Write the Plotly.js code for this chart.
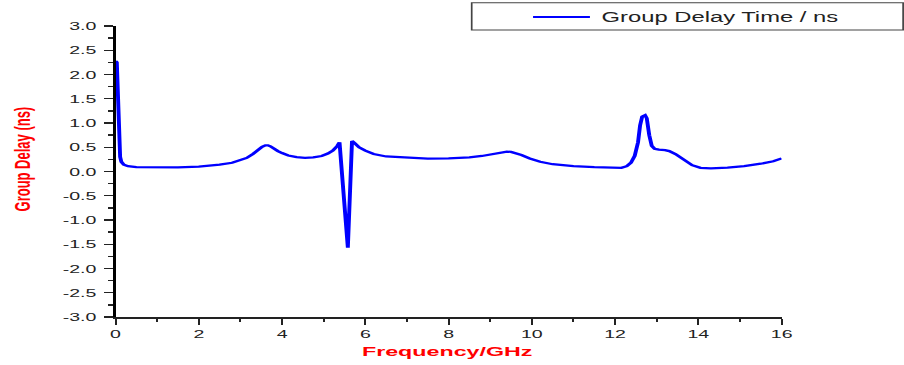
<!DOCTYPE html>
<html>
<head>
<meta charset="utf-8">
<script src="https://cdn.plot.ly/plotly-3.0.1.min.js"></script>
<style>
  html, body { margin: 0; padding: 0; background: #ffffff; overflow: hidden; }
  #chart { width: 532px; height: 365px; transform: scaleX(1.6992); transform-origin: 0 0; }
</style>
</head>
<body>
<div id="chart"></div>
<script>
// Frequency (GHz)
const freq = [0.0, 0.03, 0.11, 0.14, 0.2, 0.3, 0.5, 1.0, 1.5, 2.0, 2.5, 2.8, 3.0, 3.15, 3.3, 3.42, 3.52, 3.6, 3.66, 3.72, 3.8, 3.9, 4.0, 4.15, 4.35, 4.55, 4.75, 4.95, 5.1, 5.22, 5.32, 5.38, 5.58, 5.68, 5.75, 5.85, 6.0, 6.2, 6.5, 7.0, 7.5, 8.0, 8.5, 8.8, 9.05, 9.25, 9.4, 9.5, 9.6, 9.75, 9.95, 10.2, 10.5, 11.0, 11.5, 12.0, 12.15, 12.28, 12.38, 12.47, 12.55, 12.6, 12.65, 12.72, 12.76, 12.82, 12.88, 12.95, 13.05, 13.2, 13.3, 13.45, 13.65, 13.85, 14.05, 14.3, 14.7, 15.1, 15.5, 15.8, 16.0];
// Group delay (ns)
const delay = [2.28, 2.25, 0.3, 0.2, 0.14, 0.11, 0.09, 0.08, 0.085, 0.1, 0.14, 0.18, 0.23, 0.28, 0.36, 0.45, 0.51, 0.54, 0.54, 0.52, 0.47, 0.42, 0.38, 0.33, 0.295, 0.28, 0.29, 0.32, 0.37, 0.43, 0.52, 0.6, -1.57, 0.63, 0.58, 0.5, 0.43, 0.36, 0.31, 0.28, 0.265, 0.27, 0.29, 0.32, 0.36, 0.395, 0.41, 0.405, 0.385, 0.34, 0.27, 0.2, 0.15, 0.11, 0.09, 0.07, 0.075, 0.11, 0.18, 0.32, 0.6, 0.95, 1.13, 1.16, 1.1, 0.75, 0.53, 0.47, 0.45, 0.44, 0.42, 0.36, 0.24, 0.13, 0.075, 0.065, 0.08, 0.11, 0.16, 0.21, 0.27];

const seriesName = "Group Delay Time / ns";
const xTitle = "Frequency/GHz";
const yTitle = "Group Delay (ns)";
const xTickVals = [0, 2, 4, 6, 8, 10, 12, 14, 16];
const xTickText = ["0", "2", "4", "6", "8", "10", "12", "14", "16"];
const yTickVals = [3.0, 2.5, 2.0, 1.5, 1.0, 0.5, 0.0, -0.5, -1.0, -1.5, -2.0, -2.5, -3.0];
const yTickText = ["3.0", "2.5", "2.0", "1.5", "1.0", "0.5", "0.0", "-0.5", "-1.0", "-1.5", "-2.0", "-2.5", "-3.0"];

const FONT = "Liberation Sans, Arial, sans-serif";
const BLUE = "#0000ff";
const RED = "#ff0000";

const trace = {
  x: freq, y: delay, type: "scatter", mode: "lines", name: seriesName,
  line: { color: BLUE, width: 2.3, shape: "linear" }, showlegend: false, hoverinfo: "skip"
};

const layout = {
  width: 532, height: 365,
  margin: { l: 68, r: 72, t: 26, b: 48, pad: 0 },
  paper_bgcolor: "#ffffff", plot_bgcolor: "#ffffff",
  font: { family: FONT, color: "#222222", size: 11 },
  showlegend: false,
  xaxis: {
    range: [0, 16], tickmode: "array", tickvals: xTickVals, ticktext: xTickText,
    showgrid: false, zeroline: false, showline: true, linecolor: "#222222", linewidth: 1.5,
    ticks: "outside", ticklen: 6, tickwidth: 1.2, tickcolor: "#222222",
    minor: { dtick: 1, ticks: "outside", ticklen: 3, tickwidth: 1.2, tickcolor: "#222222", showgrid: false },
    tickfont: { family: FONT, size: 11.5, color: "#222222" }, fixedrange: true
  },
  yaxis: {
    range: [-3, 3], tickmode: "array", tickvals: yTickVals, ticktext: yTickText,
    showgrid: false, zeroline: false, showline: true, linecolor: "#000000", linewidth: 1.7,
    ticks: "outside", ticklen: 5.3, tickwidth: 1.3, tickcolor: "#222222",
    minor: { dtick: 0.25, tick0: 0, ticks: "outside", ticklen: 3, tickwidth: 1.3, tickcolor: "#222222", showgrid: false },
    tickfont: { family: FONT, size: 11.5, color: "#222222" }, ticklabelstandoff: 2, fixedrange: true
  },
  shapes: [
    { type: "rect", xref: "paper", yref: "paper", x0: 0.5347, x1: 1.1824, y0: 0.9863, y1: 1.080,
      line: { color: "#444444", width: 1 }, fillcolor: "rgba(0,0,0,0)" },
    { type: "line", xref: "paper", yref: "paper", x0: 0.6268, x1: 0.7122, y0: 1.0309, y1: 1.0309,
      line: { color: BLUE, width: 2 } }
  ],
  annotations: [
    { text: seriesName, xref: "paper", yref: "paper", x: 0.7243, y: 1.0309, xanchor: "left", yanchor: "middle",
      showarrow: false, font: { family: FONT, size: 14, color: "#222222" } },
    { text: "<b>" + xTitle + "</b>", xref: "paper", yref: "paper", x: 0.499, y: -0.120, xanchor: "center", yanchor: "middle",
      showarrow: false, font: { family: FONT, size: 13.7, color: RED } },
    { text: "<b>" + yTitle + "</b>", xref: "paper", yref: "paper", x: -0.139, y: 0.543, xanchor: "center", yanchor: "middle",
      textangle: -90, showarrow: false, font: { family: FONT, size: 13, color: RED } }
  ]
};

Plotly.newPlot("chart", [trace], layout, { displayModeBar: false, staticPlot: true, responsive: false });
</script>
</body>
</html>
